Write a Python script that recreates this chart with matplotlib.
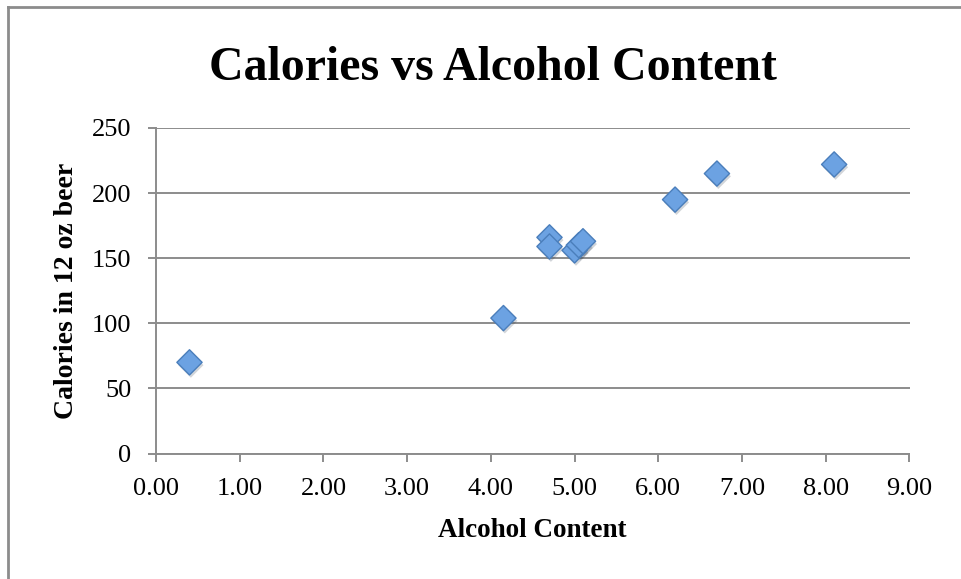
import matplotlib
matplotlib.use("Agg")
import matplotlib.pyplot as plt
import matplotlib.patheffects as pe
from matplotlib.lines import Line2D

# Data
alcohol = [0.4, 4.15, 4.7, 4.7, 5.0, 5.05, 5.1, 6.2, 6.7, 8.1]
calories = [70, 104, 166, 159, 156, 160, 163, 195, 215, 222]

x_ticks = [0, 1, 2, 3, 4, 5, 6, 7, 8, 9]
y_ticks = [0, 50, 100, 150, 200, 250]

plt.rcParams["font.family"] = ["Liberation Serif", "DejaVu Serif"]

W, H = 961, 579
fig = plt.figure(figsize=(W / 100, H / 100), dpi=100)
ax = fig.add_axes([156 / W, 1 - 453.5 / H, 753.5 / W, 325.5 / H])

grid_col = "#8c8c8c"

ax.scatter(
    alcohol,
    calories,
    marker="D",
    s=165,
    color="#6ca2e2",
    edgecolor="#4a7ebb",
    linewidth=1,
    zorder=3,
    path_effects=[pe.SimplePatchShadow(offset=(1, -2), alpha=0.2), pe.Normal()],
)

ax.set_xlim(0, 9)
ax.set_ylim(0, 250)
ax.set_xticks(x_ticks)
ax.set_xticklabels([f"{v:.2f}" for v in x_ticks])
ax.set_yticks(y_ticks)
ax.set_yticklabels([str(v) for v in y_ticks])

ax.grid(True, axis="y", color=grid_col, linewidth=1.4, zorder=0)
for side in ["top", "right"]:
    ax.spines[side].set_visible(False)
for side in ["left", "bottom"]:
    ax.spines[side].set_color(grid_col)
    ax.spines[side].set_linewidth(1.4)

ax.tick_params(axis="both", direction="out", length=5.8, width=1.4, color=grid_col,
               labelsize=19)
ax.tick_params(axis="x", pad=11.5)
ax.tick_params(axis="y", pad=12)

# title centred over the whole chart area
fig.text(493 / W, 1 - 79.5 / H, "Calories vs Alcohol Content", fontsize=34.5,
         fontweight="bold", ha="center", va="baseline")

ax.set_xlabel("Alcohol Content", fontsize=19.5, fontweight="bold")
ax.xaxis.label.set_va("baseline")
ax.xaxis.set_label_coords(0.5, (453.5 - 537) / 325.5)

ax.set_ylabel("Calories in 12 oz beer", fontsize=20, fontweight="bold")
ax.yaxis.label.set_va("baseline")
ax.yaxis.set_label_coords((73 - 156) / 753.5, 0.5)

# outer chart border (left and top edges are visible)
bx = 8 / W
by = 1 - 7 / H
fig.add_artist(Line2D([bx, bx], [0, by], transform=fig.transFigure, color=grid_col, linewidth=2))
fig.add_artist(Line2D([bx, 1], [by, by], transform=fig.transFigure, color=grid_col, linewidth=2))

fig.savefig("out.png", dpi=100)
